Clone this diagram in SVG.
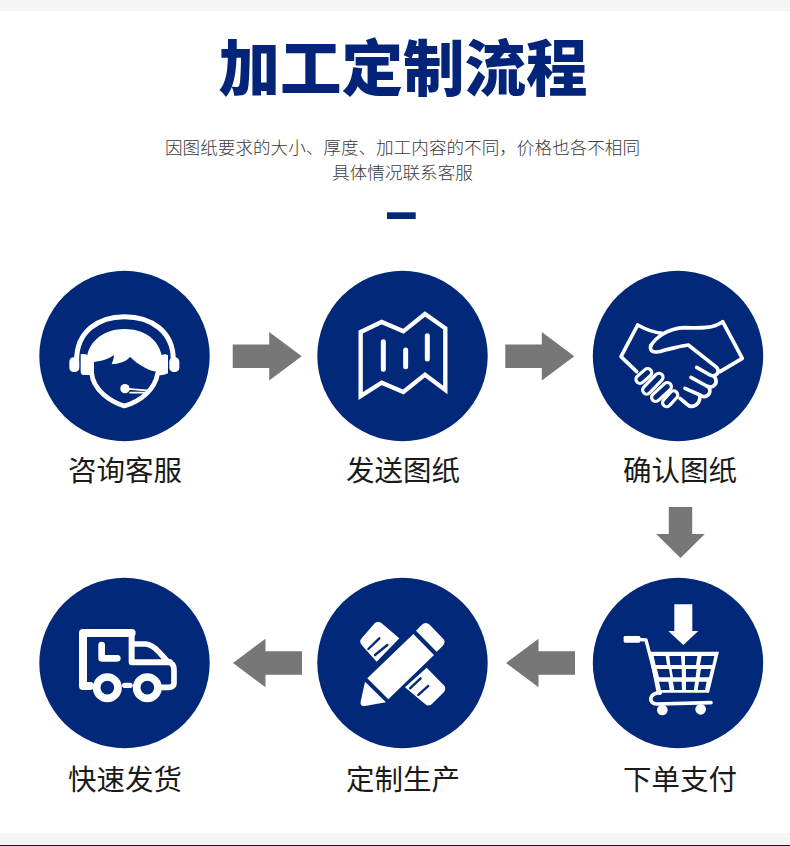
<svg xmlns="http://www.w3.org/2000/svg" width="790" height="846" viewBox="0 0 790 846">
<style>
text{font-family:"Noto Sans CJK SC","Liberation Sans",sans-serif;text-anchor:middle}
.title{font-size:61.500px;font-weight:900;fill:#04247a}
.sub{font-size:17.6px;fill:#3a3a3a;font-weight:300}
.lbl{font-size:28.5px;fill:#1a1a1a}
.c{fill:#02287a}
.w{fill:#fff}
.s{fill:none;stroke:#fff;stroke-linecap:round;stroke-linejoin:round}
.d{fill:#02287a}
.ds{fill:none;stroke:#02287a;stroke-linecap:round}
.a{fill:#777}
</style>
<defs>
<path id="ar" d="M-34.500 -11.700H2V-24.300L34.500 0L2 24.300V11.700H-34.500Z"/>
</defs>
<rect width="790" height="846" fill="#fff"/>
<rect width="790" height="11" fill="#f5f5f5"/>
<rect y="833" width="790" height="12" fill="#f5f5f5"/>
<rect y="845" width="790" height="1" fill="#0d1b5e"/>
<g id="header">
<text class="title" x="403" y="90.500">加工定制流程</text>
<text class="sub" x="402.500" y="154">因图纸要求的大小、厚度、加工内容的不同&#xFF0C;价格也各不相同</text>
<text class="sub" x="402.500" y="179">具体情况联系客服</text>
<rect x="387" y="212.300" width="28.700" height="6.700" fill="#02287a"/>
</g>
<g id="connectors">
<use href="#ar" class="a" x="267.200" y="356.300"/>
<use href="#ar" class="a" x="539.800" y="356.300"/>
<use href="#ar" class="a" transform="translate(680.500 532.500) rotate(90) scale(.74 1)"/>
<use href="#ar" class="a" transform="translate(540.500 663) rotate(180)"/>
<use href="#ar" class="a" transform="translate(267.500 663) rotate(180)"/>
</g>
<g id="node-consult">
<circle class="c" cx="124.500" cy="356" r="85.200"/>
<g transform="translate(30 260) scale(.3333)">
<path class="s" stroke-width="15" d="M140 300C140 215 205 170 283 170C365 170 430 215 430 300"/>
<rect class="w" x="118" y="292" width="30" height="44" rx="13"/>
<rect class="w" x="418" y="292" width="30" height="44" rx="13"/>
<path class="w" d="M152 283Q165 280 172 285C182 240 225 207 283 207C345 207 385 240 395 285Q405 280 414 285V340Q405 347 383 345L380 335C360 332 330 320 300 290C290 305 265 312 245 312C250 300 252 292 252 285C235 298 215 303 192 306V345H165Q152 345 152 335Z"/>
<path class="s" stroke-width="14" d="M185 340C190 390 240 425 283 438C330 425 375 390 383 340"/>
<circle class="w" cx="285" cy="386" r="14"/>
<path class="s" stroke-width="5" d="M285 386L358 392M300 398H345"/>
</g>
<text class="lbl" x="125" y="481">咨询客服</text>
</g>
<g id="node-send">
<circle class="c" cx="402.500" cy="356" r="85.200"/>
<g transform="translate(310 260) scale(.3333)">
<path class="s" stroke-width="13" stroke-linecap="butt" style="stroke-linejoin:miter" d="M152 216L215 186L280 214L345 162L406 205V390L345 344L280 396L215 368L152 408Z"/>
<path class="s" stroke-width="15" d="M220 245V328M287 270V320M352 227V297"/>
</g>
<text class="lbl" x="403" y="481">发送图纸</text>
</g>
<g id="node-confirm">
<circle class="c" cx="678" cy="356" r="85.200"/>
<g transform="translate(585 260) scale(.3333)">
<path class="s" stroke-width="11" d="M155 335L108 290L158 195C185 210 210 218 232 220"/>
<path class="s" stroke-width="11" d="M197 258C210 235 245 205 300 203C350 205 385 205 413 185L472 295L405 335"/>
<path class="s" stroke-width="11" d="M197 258C192 278 215 280 240 270C265 265 285 258 310 255L395 322C408 340 388 352 375 345L335 322"/>
<path class="s" stroke-width="11" d="M388 350C402 368 385 388 365 378L318 352"/>
<path class="s" stroke-width="11" d="M372 382C382 402 360 418 345 405L300 385"/>
<path class="s" stroke-width="11" d="M345 408C345 435 320 448 305 432L285 415"/>
<path class="s" stroke-width="34" d="M165 358L188 338"/><path class="ds" stroke-width="15" d="M165 358L188 338"/>
<path class="s" stroke-width="34" d="M185 390L222 352"/><path class="ds" stroke-width="15" d="M185 390L222 352"/>
<path class="s" stroke-width="34" d="M212 412L247 380"/><path class="ds" stroke-width="15" d="M212 412L247 380"/>
<path class="s" stroke-width="34" d="M245 428L266 405"/><path class="ds" stroke-width="15" d="M245 428L266 405"/>
</g>
<text class="lbl" x="680" y="481">确认图纸</text>
</g>
<g id="node-pay">
<circle class="c" cx="678" cy="663" r="85.200"/>
<g transform="translate(585 570) scale(.3333)">
<path class="w" d="M268 103H322V183H340L295 225L250 183H268Z"/>
<rect class="w" x="116" y="198" width="50" height="20" rx="4"/>
<path class="s" stroke-width="10" d="M160 208L183 210L225 370"/>
<path class="w" d="M190 245L402 245L372 368H215Z"/>
<path class="d" d="M206 258H242L246 285H212ZM253 258H288L290 285H256ZM300 258H337L333 285H300ZM350 258H388L382 285H345ZM216 297H252L256 322H222ZM260 297H290L291 322H264ZM303 297H335L332 322H303ZM348 297H378L372 322H344ZM222 335H250L254 360H228ZM264 335H290L291 360H268ZM303 335H330L327 360H303ZM342 335H365L360 360H338Z"/>
<path class="s" stroke-width="11" d="M225 368C190 370 190 402 215 402L378 398"/>
<circle class="w" cx="232" cy="420" r="16"/>
<circle class="w" cx="347" cy="418" r="16"/>
</g>
<text class="lbl" x="680" y="790">下单支付</text>
</g>
<g id="node-produce">
<circle class="c" cx="402.500" cy="663" r="85.200"/>
<g transform="translate(310 570) scale(.3333)">
<path class="w" d="M268 205L215 160Q203 150 192 162L155 205Q145 215 157 227L200 275Z"/>
<path class="w" d="M350 293L403 347Q410 357 400 368L368 400Q358 412 345 402L285 352Z"/>
<path class="ds" stroke-width="7" d="M175 237L208 205M195 255L232 225M300 355L332 325M325 375L355 348"/>
<path class="w" d="M172 325L310 192L372 255L235 388Z"/>
<path class="w" d="M318 182L335 165Q347 153 360 165L398 205Q410 215 398 228L380 245Z"/>
<path class="w" d="M165 335L228 397L165 408Q150 410 152 395Z"/>
</g>
<text class="lbl" x="403" y="790">定制生产</text>
</g>
<g id="node-ship">
<circle class="c" cx="124.500" cy="663" r="85.200"/>
<g transform="translate(30 570) scale(.3333)">
<path class="s" stroke-width="24" d="M180 348H159V189H305"/>
<path class="s" stroke-width="18" d="M305 189V277H420"/>
<path class="s" stroke-width="17" d="M305 222H345C370 222 390 250 410 272Q432 280 432 298V340Q432 352 415 352H395"/>
<path class="s" stroke-width="20" d="M215 225V265H262"/>
<circle cx="232" cy="353" r="32" fill="#02287a" stroke="#fff" stroke-width="23"/>
<circle cx="352" cy="353" r="32" fill="#02287a" stroke="#fff" stroke-width="23"/>
<path class="s" stroke-width="16" d="M284 346H300"/>
</g>
<text class="lbl" x="125" y="790">快速发货</text>
</g>
</svg>
